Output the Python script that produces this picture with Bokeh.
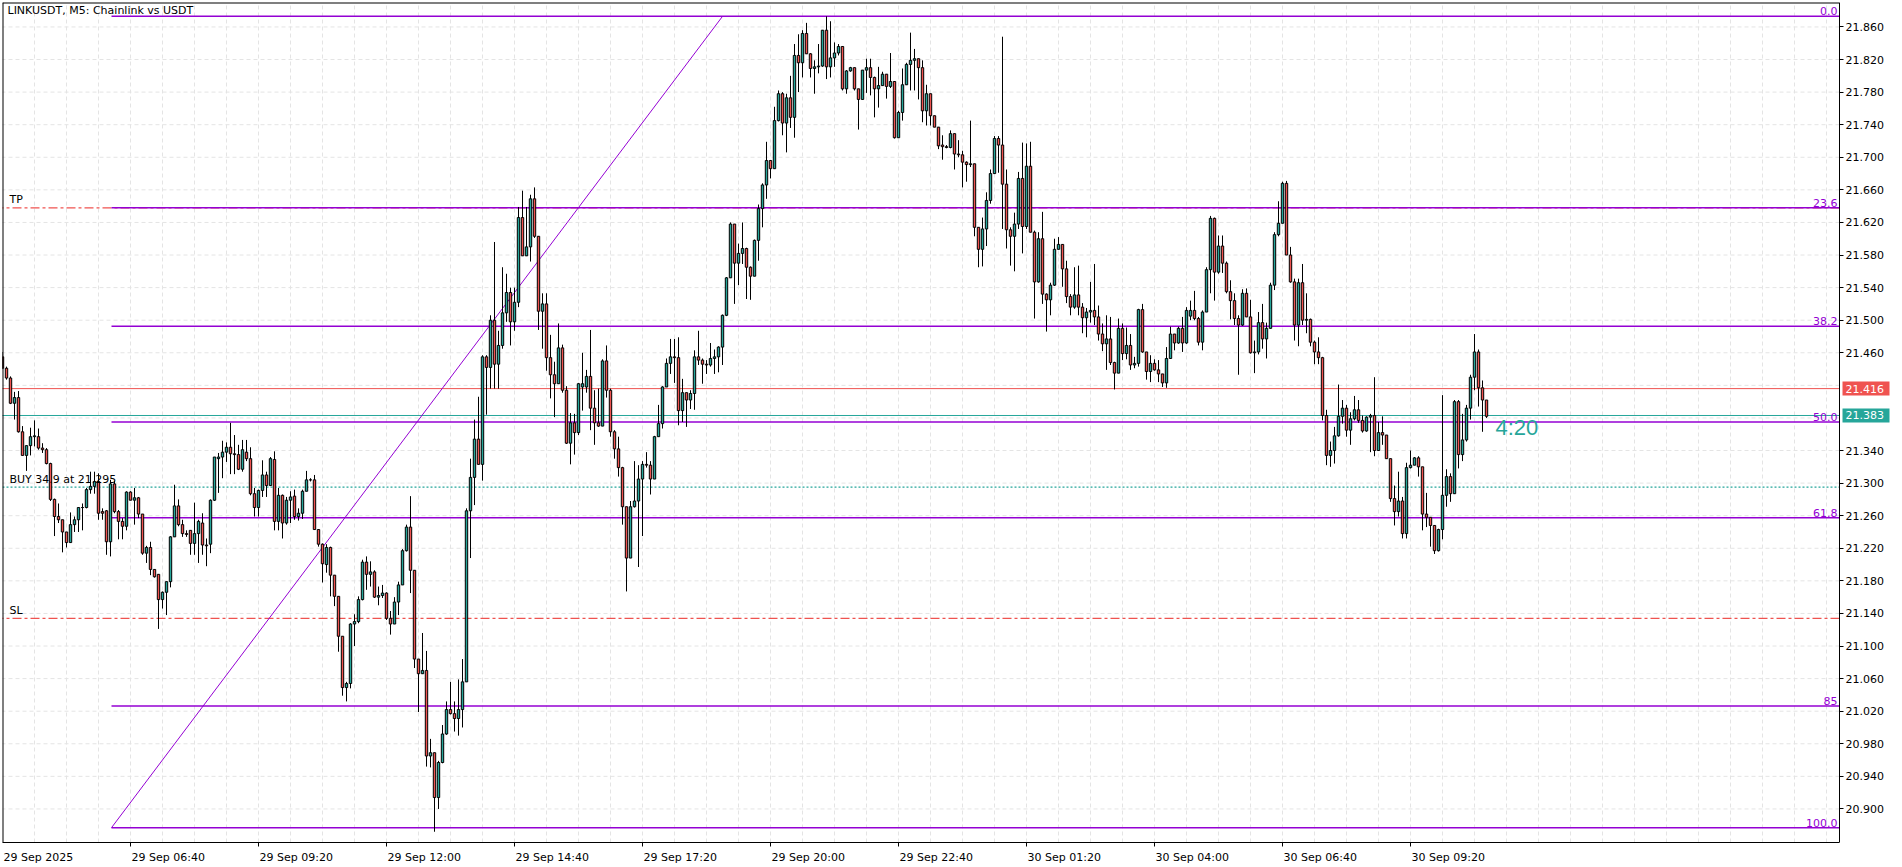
from bokeh.plotting import figure
from bokeh.models import Range1d, FixedTicker, NumeralTickFormatter, Span, Label
from bokeh.embed import file_html
from bokeh.resources import INLINE

# ---------------- data (LINKUSDT M5, bars from 29 Sep 2025 04:00) ----------------
opens = [
    21.455, 21.441, 21.429, 21.398, 21.405, 21.363, 21.334, 21.346, 21.357, 21.357,
    21.343, 21.341, 21.324, 21.280, 21.259, 21.255, 21.240, 21.227, 21.249, 21.255,
    21.270, 21.270, 21.292, 21.296, 21.302, 21.265, 21.266, 21.228, 21.299, 21.265,
    21.253, 21.247, 21.289, 21.279, 21.282, 21.262, 21.214, 21.221, 21.194, 21.188,
    21.157, 21.166, 21.179, 21.234, 21.272, 21.249, 21.238, 21.242, 21.226, 21.238,
    21.251, 21.224, 21.225, 21.279, 21.330, 21.332, 21.338, 21.344, 21.336, 21.335,
    21.317, 21.338, 21.330, 21.287, 21.270, 21.291, 21.310, 21.297, 21.329, 21.253,
    21.285, 21.251, 21.279, 21.284, 21.259, 21.263, 21.290, 21.304, 21.304, 21.243,
    21.225, 21.200, 21.221, 21.187, 21.161, 21.112, 21.049, 21.054, 21.127, 21.130,
    21.157, 21.203, 21.188, 21.191, 21.160, 21.162, 21.165, 21.134, 21.127, 21.154,
    21.175, 21.217, 21.246, 21.193, 21.084, 21.066, 21.070, 20.965, 20.969, 20.914,
    20.957, 20.992, 21.022, 21.017, 21.011, 21.022, 21.056, 21.266, 21.307, 21.354,
    21.323, 21.455, 21.442, 21.500, 21.446, 21.469, 21.509, 21.534, 21.498, 21.522,
    21.626, 21.579, 21.590, 21.649, 21.603, 21.511, 21.520, 21.454, 21.433, 21.422,
    21.466, 21.414, 21.349, 21.374, 21.362, 21.418, 21.418, 21.431, 21.392, 21.374,
    21.370, 21.450, 21.414, 21.363, 21.342, 21.319, 21.271, 21.208, 21.271, 21.278,
    21.305, 21.323, 21.322, 21.305, 21.357, 21.373, 21.418, 21.447, 21.455, 21.454,
    21.389, 21.411, 21.402, 21.410, 21.455, 21.451, 21.446, 21.445, 21.453, 21.455,
    21.467, 21.506, 21.552, 21.618, 21.570, 21.582, 21.588, 21.565, 21.554, 21.598,
    21.637, 21.666, 21.696, 21.686, 21.745, 21.778, 21.742, 21.773, 21.749, 21.825,
    21.816, 21.852, 21.827, 21.809, 21.811, 21.812, 21.856, 21.811, 21.822, 21.828,
    21.836, 21.784, 21.806, 21.810, 21.784, 21.771, 21.807, 21.810, 21.798, 21.784,
    21.788, 21.802, 21.787, 21.793, 21.724, 21.755, 21.789, 21.814, 21.819, 21.821,
    21.810, 21.757, 21.778, 21.751, 21.737, 21.715, 21.713, 21.712, 21.729, 21.704,
    21.703, 21.694, 21.691, 21.692, 21.614, 21.587, 21.612, 21.647, 21.680, 21.723,
    21.715, 21.667, 21.611, 21.603, 21.618, 21.674, 21.615, 21.689, 21.608, 21.547,
    21.600, 21.532, 21.525, 21.543, 21.587, 21.593, 21.563, 21.529, 21.516, 21.531,
    21.516, 21.503, 21.510, 21.512, 21.504, 21.483, 21.471, 21.477, 21.448, 21.435,
    21.490, 21.459, 21.469, 21.445, 21.447, 21.513, 21.461, 21.437, 21.447, 21.439,
    21.434, 21.423, 21.453, 21.483, 21.472, 21.490, 21.472, 21.505, 21.512, 21.502,
    21.473, 21.510, 21.562, 21.625, 21.559, 21.591, 21.570, 21.535, 21.524, 21.502,
    21.494, 21.533, 21.504, 21.460, 21.461, 21.497, 21.477, 21.490, 21.543, 21.605,
    21.619, 21.668, 21.580, 21.547, 21.494, 21.546, 21.500, 21.501, 21.473, 21.461,
    21.454, 21.383, 21.334, 21.340, 21.358, 21.382, 21.392, 21.365, 21.379, 21.390,
    21.377, 21.364, 21.381, 21.383, 21.340, 21.362, 21.359, 21.330, 21.281, 21.265,
    21.278, 21.238, 21.319, 21.322, 21.331, 21.320, 21.262, 21.258, 21.248, 21.217,
    21.243, 21.285, 21.308, 21.287, 21.400, 21.335, 21.353, 21.392, 21.430, 21.461,
    21.417, 21.402,
]
highs = [
    21.461, 21.443, 21.431, 21.412, 21.413, 21.370, 21.346, 21.368, 21.377, 21.367,
    21.349, 21.343, 21.325, 21.281, 21.275, 21.255, 21.240, 21.264, 21.259, 21.270,
    21.275, 21.294, 21.314, 21.314, 21.312, 21.269, 21.267, 21.304, 21.303, 21.267,
    21.257, 21.290, 21.290, 21.294, 21.283, 21.262, 21.223, 21.228, 21.194, 21.188,
    21.167, 21.179, 21.235, 21.298, 21.280, 21.255, 21.242, 21.242, 21.276, 21.255,
    21.263, 21.232, 21.280, 21.332, 21.337, 21.352, 21.350, 21.374, 21.359, 21.347,
    21.353, 21.353, 21.344, 21.294, 21.292, 21.328, 21.314, 21.332, 21.339, 21.294,
    21.286, 21.283, 21.290, 21.292, 21.269, 21.292, 21.315, 21.306, 21.310, 21.243,
    21.226, 21.225, 21.222, 21.187, 21.161, 21.112, 21.056, 21.128, 21.139, 21.161,
    21.206, 21.210, 21.204, 21.193, 21.173, 21.175, 21.166, 21.143, 21.160, 21.179,
    21.219, 21.249, 21.284, 21.193, 21.084, 21.116, 21.094, 20.986, 20.969, 20.959,
    21.003, 21.032, 21.056, 21.032, 21.059, 21.084, 21.269, 21.330, 21.378, 21.406,
    21.457, 21.457, 21.506, 21.596, 21.487, 21.565, 21.557, 21.540, 21.540, 21.639,
    21.659, 21.639, 21.654, 21.663, 21.603, 21.533, 21.533, 21.482, 21.449, 21.496,
    21.470, 21.419, 21.386, 21.385, 21.423, 21.460, 21.439, 21.488, 21.414, 21.416,
    21.452, 21.469, 21.416, 21.365, 21.357, 21.320, 21.271, 21.278, 21.327, 21.322,
    21.327, 21.338, 21.327, 21.358, 21.396, 21.419, 21.453, 21.477, 21.477, 21.479,
    21.428, 21.411, 21.414, 21.463, 21.487, 21.453, 21.451, 21.472, 21.464, 21.468,
    21.507, 21.553, 21.620, 21.618, 21.594, 21.620, 21.589, 21.566, 21.599, 21.642,
    21.668, 21.719, 21.696, 21.762, 21.782, 21.780, 21.778, 21.800, 21.839, 21.851,
    21.856, 21.865, 21.828, 21.819, 21.839, 21.856, 21.873, 21.867, 21.841, 21.839,
    21.836, 21.807, 21.811, 21.810, 21.784, 21.807, 21.821, 21.821, 21.799, 21.811,
    21.805, 21.802, 21.828, 21.793, 21.757, 21.809, 21.816, 21.853, 21.833, 21.821,
    21.819, 21.789, 21.778, 21.751, 21.737, 21.727, 21.715, 21.733, 21.729, 21.721,
    21.708, 21.695, 21.745, 21.692, 21.614, 21.626, 21.657, 21.685, 21.726, 21.726,
    21.848, 21.685, 21.614, 21.632, 21.682, 21.718, 21.717, 21.719, 21.610, 21.608,
    21.633, 21.533, 21.546, 21.600, 21.602, 21.593, 21.573, 21.532, 21.565, 21.567,
    21.521, 21.515, 21.547, 21.569, 21.518, 21.496, 21.506, 21.504, 21.449, 21.502,
    21.496, 21.491, 21.483, 21.455, 21.514, 21.520, 21.461, 21.457, 21.452, 21.451,
    21.434, 21.467, 21.492, 21.483, 21.492, 21.504, 21.516, 21.524, 21.536, 21.504,
    21.512, 21.565, 21.628, 21.626, 21.604, 21.604, 21.572, 21.549, 21.533, 21.506,
    21.538, 21.539, 21.525, 21.475, 21.510, 21.520, 21.497, 21.546, 21.608, 21.646,
    21.670, 21.671, 21.590, 21.551, 21.551, 21.569, 21.533, 21.502, 21.475, 21.479,
    21.455, 21.390, 21.351, 21.369, 21.421, 21.402, 21.396, 21.387, 21.407, 21.402,
    21.383, 21.382, 21.385, 21.430, 21.375, 21.382, 21.359, 21.330, 21.297, 21.314,
    21.283, 21.325, 21.340, 21.332, 21.333, 21.320, 21.288, 21.258, 21.248, 21.244,
    21.408, 21.317, 21.312, 21.402, 21.402, 21.385, 21.396, 21.433, 21.483, 21.464,
    21.426, 21.402,
]
lows = [
    21.440, 21.427, 21.397, 21.378, 21.362, 21.334, 21.315, 21.334, 21.345, 21.341,
    21.337, 21.323, 21.278, 21.235, 21.251, 21.215, 21.221, 21.227, 21.240, 21.240,
    21.242, 21.269, 21.287, 21.287, 21.255, 21.255, 21.212, 21.210, 21.263, 21.231,
    21.231, 21.242, 21.279, 21.249, 21.257, 21.212, 21.202, 21.187, 21.184, 21.121,
    21.146, 21.138, 21.172, 21.234, 21.247, 21.234, 21.234, 21.212, 21.212, 21.202,
    21.212, 21.198, 21.214, 21.278, 21.288, 21.306, 21.326, 21.311, 21.311, 21.316,
    21.314, 21.327, 21.285, 21.259, 21.259, 21.283, 21.283, 21.297, 21.242, 21.242,
    21.232, 21.249, 21.251, 21.255, 21.254, 21.256, 21.290, 21.302, 21.243, 21.222,
    21.178, 21.190, 21.161, 21.149, 21.093, 21.039, 21.032, 21.048, 21.100, 21.128,
    21.156, 21.169, 21.173, 21.159, 21.150, 21.159, 21.132, 21.114, 21.127, 21.138,
    21.175, 21.216, 21.165, 21.073, 21.019, 21.066, 20.952, 20.951, 20.872, 20.900,
    20.956, 20.991, 21.016, 20.995, 20.990, 21.000, 21.056, 21.208, 21.273, 21.323,
    21.303, 21.384, 21.416, 21.416, 21.416, 21.465, 21.498, 21.469, 21.487, 21.516,
    21.579, 21.579, 21.572, 21.601, 21.488, 21.465, 21.438, 21.404, 21.381, 21.422,
    21.411, 21.348, 21.323, 21.335, 21.359, 21.389, 21.411, 21.365, 21.347, 21.369,
    21.370, 21.405, 21.357, 21.330, 21.308, 21.249, 21.167, 21.208, 21.270, 21.197,
    21.235, 21.319, 21.286, 21.305, 21.357, 21.367, 21.418, 21.434, 21.423, 21.371,
    21.375, 21.369, 21.391, 21.390, 21.445, 21.422, 21.434, 21.443, 21.434, 21.436,
    21.445, 21.505, 21.552, 21.520, 21.543, 21.569, 21.526, 21.525, 21.554, 21.573,
    21.614, 21.649, 21.674, 21.686, 21.744, 21.727, 21.706, 21.736, 21.724, 21.780,
    21.798, 21.827, 21.798, 21.778, 21.803, 21.811, 21.796, 21.798, 21.811, 21.825,
    21.782, 21.778, 21.805, 21.782, 21.734, 21.771, 21.779, 21.776, 21.749, 21.761,
    21.788, 21.772, 21.785, 21.723, 21.724, 21.745, 21.789, 21.782, 21.782, 21.771,
    21.743, 21.739, 21.739, 21.737, 21.710, 21.697, 21.711, 21.711, 21.685, 21.700,
    21.663, 21.670, 21.688, 21.603, 21.565, 21.566, 21.591, 21.643, 21.680, 21.681,
    21.612, 21.588, 21.567, 21.560, 21.612, 21.582, 21.612, 21.608, 21.502, 21.546,
    21.520, 21.486, 21.506, 21.542, 21.587, 21.541, 21.521, 21.506, 21.514, 21.506,
    21.484, 21.479, 21.497, 21.494, 21.475, 21.462, 21.439, 21.445, 21.415, 21.435,
    21.451, 21.452, 21.439, 21.441, 21.443, 21.460, 21.427, 21.424, 21.438, 21.424,
    21.418, 21.417, 21.453, 21.463, 21.471, 21.461, 21.471, 21.500, 21.500, 21.469,
    21.463, 21.510, 21.533, 21.524, 21.557, 21.558, 21.533, 21.501, 21.494, 21.433,
    21.493, 21.504, 21.459, 21.435, 21.458, 21.465, 21.453, 21.490, 21.537, 21.603,
    21.619, 21.580, 21.546, 21.475, 21.468, 21.494, 21.484, 21.468, 21.446, 21.446,
    21.377, 21.322, 21.320, 21.324, 21.357, 21.373, 21.357, 21.347, 21.377, 21.374,
    21.362, 21.363, 21.338, 21.333, 21.340, 21.347, 21.330, 21.277, 21.248, 21.259,
    21.232, 21.232, 21.318, 21.322, 21.308, 21.242, 21.246, 21.222, 21.213, 21.216,
    21.231, 21.271, 21.277, 21.287, 21.318, 21.327, 21.351, 21.378, 21.414, 21.394,
    21.363, 21.380,
]
closes = [
    21.441, 21.429, 21.398, 21.405, 21.363, 21.334, 21.346, 21.357, 21.358, 21.343,
    21.341, 21.324, 21.280, 21.259, 21.255, 21.240, 21.227, 21.249, 21.255, 21.270,
    21.270, 21.292, 21.296, 21.302, 21.263, 21.263, 21.228, 21.299, 21.265, 21.253,
    21.247, 21.289, 21.279, 21.282, 21.262, 21.214, 21.221, 21.194, 21.185, 21.157,
    21.166, 21.179, 21.234, 21.272, 21.249, 21.238, 21.237, 21.226, 21.238, 21.253,
    21.224, 21.223, 21.279, 21.332, 21.332, 21.338, 21.344, 21.336, 21.335, 21.317,
    21.341, 21.330, 21.287, 21.270, 21.291, 21.310, 21.297, 21.330, 21.253, 21.285,
    21.251, 21.279, 21.283, 21.259, 21.263, 21.290, 21.304, 21.304, 21.243, 21.225,
    21.201, 21.221, 21.187, 21.161, 21.112, 21.049, 21.054, 21.127, 21.130, 21.157,
    21.203, 21.188, 21.191, 21.160, 21.162, 21.165, 21.134, 21.127, 21.154, 21.175,
    21.217, 21.246, 21.193, 21.084, 21.066, 21.070, 20.965, 20.969, 20.914, 20.957,
    20.992, 21.022, 21.017, 21.011, 21.022, 21.056, 21.266, 21.307, 21.354, 21.323,
    21.455, 21.442, 21.500, 21.446, 21.469, 21.509, 21.534, 21.498, 21.522, 21.626,
    21.579, 21.590, 21.649, 21.603, 21.511, 21.520, 21.454, 21.433, 21.422, 21.466,
    21.414, 21.349, 21.374, 21.362, 21.422, 21.422, 21.431, 21.392, 21.374, 21.370,
    21.450, 21.414, 21.363, 21.342, 21.319, 21.271, 21.208, 21.271, 21.278, 21.305,
    21.323, 21.322, 21.305, 21.357, 21.373, 21.418, 21.447, 21.455, 21.454, 21.389,
    21.411, 21.402, 21.410, 21.455, 21.451, 21.446, 21.445, 21.453, 21.455, 21.467,
    21.506, 21.552, 21.618, 21.570, 21.582, 21.588, 21.565, 21.554, 21.598, 21.637,
    21.666, 21.696, 21.686, 21.745, 21.778, 21.742, 21.773, 21.749, 21.825, 21.816,
    21.852, 21.827, 21.809, 21.811, 21.812, 21.856, 21.811, 21.822, 21.828, 21.836,
    21.784, 21.806, 21.810, 21.784, 21.771, 21.807, 21.810, 21.798, 21.784, 21.788,
    21.802, 21.787, 21.793, 21.724, 21.755, 21.789, 21.814, 21.819, 21.821, 21.810,
    21.757, 21.778, 21.751, 21.737, 21.714, 21.713, 21.712, 21.729, 21.704, 21.703,
    21.694, 21.691, 21.692, 21.614, 21.587, 21.612, 21.647, 21.680, 21.723, 21.715,
    21.667, 21.611, 21.603, 21.618, 21.674, 21.615, 21.689, 21.608, 21.547, 21.600,
    21.532, 21.525, 21.543, 21.587, 21.593, 21.563, 21.529, 21.516, 21.531, 21.516,
    21.503, 21.510, 21.512, 21.504, 21.483, 21.471, 21.477, 21.448, 21.435, 21.490,
    21.459, 21.469, 21.445, 21.447, 21.513, 21.461, 21.437, 21.447, 21.439, 21.434,
    21.423, 21.453, 21.483, 21.472, 21.490, 21.472, 21.512, 21.512, 21.502, 21.473,
    21.510, 21.562, 21.625, 21.559, 21.591, 21.570, 21.535, 21.524, 21.502, 21.494,
    21.533, 21.504, 21.460, 21.461, 21.497, 21.477, 21.490, 21.543, 21.605, 21.619,
    21.668, 21.580, 21.547, 21.494, 21.546, 21.500, 21.501, 21.473, 21.461, 21.454,
    21.383, 21.334, 21.340, 21.358, 21.382, 21.392, 21.365, 21.379, 21.390, 21.377,
    21.364, 21.381, 21.383, 21.340, 21.362, 21.359, 21.330, 21.281, 21.265, 21.278,
    21.238, 21.319, 21.322, 21.331, 21.320, 21.262, 21.258, 21.248, 21.217, 21.243,
    21.285, 21.308, 21.287, 21.400, 21.335, 21.353, 21.392, 21.430, 21.461, 21.417,
    21.402, 21.382,
]

x_tick_bars = [0, 32, 64, 96, 128, 160, 192, 224, 256, 288, 320, 352]
x_tick_labels = ["29 Sep 2025", "29 Sep 06:40", "29 Sep 09:20", "29 Sep 12:00",
                 "29 Sep 14:40", "29 Sep 17:20", "29 Sep 20:00", "29 Sep 22:40",
                 "30 Sep 01:20", "30 Sep 04:00", "30 Sep 06:40", "30 Sep 09:20"]
y_ticks = [round(20.900 + 0.040 * k, 3) for k in range(25)]
y_ticks_hidden = [21.380, 21.420]   # covered by the price boxes

fib_high, fib_low = 21.873, 20.877
fib_start_bar, fib_end_bar = 27.25, 180.0
fib_levels = [0.0, 23.6, 38.2, 50.0, 61.8, 85.0, 100.0]
fib_texts = ["0.0", "23.6", "38.2", "50.0", "61.8", "85", "100.0"]

tp_price, sl_price = 21.638, 21.134
buy_price = 21.295
buy_text = "BUY 34.9 at 21.295"
ask_price, bid_price = 21.416, 21.383
timer_text = "4:20"
title_text = "LINKUSDT, M5:  Chainlink vs USDT"

# ---------------- styling / layout ----------------
BULL = "#26A69A"
BEAR = "#EF5350"
FIB = "#9400D3"
GRID = "#E4E4E4"
FONT = "DejaVu Sans"

PX_PER_BAR = 4.0
W, H = 1900, 866
FRAME_LEFT, FRAME_TOP, FRAME_BOTTOM_PAD = 2, 2, 23
frame_w = W - FRAME_LEFT
frame_h = H - FRAME_TOP - FRAME_BOTTOM_PAD
x_start = 0.0
x_end = x_start + frame_w / PX_PER_BAR
chart_right = 459.25            # bar position of the price-scale border
y_high, y_low = 21.8900, 20.8588

p = figure(width=W, height=H,
           x_range=Range1d(x_start, x_end), y_range=Range1d(y_low, y_high),
           output_backend="svg", toolbar_location=None, y_axis_location="right",
           min_border_left=FRAME_LEFT, min_border_top=FRAME_TOP,
           min_border_right=0, min_border_bottom=FRAME_BOTTOM_PAD)
p.background_fill_color = "white"
p.border_fill_color = "white"
p.outline_line_color = None

# vertical grid
p.xgrid.ticker = FixedTicker(ticks=list(range(0, 460, 8)))
p.xgrid.grid_line_color = GRID
p.xgrid.grid_line_dash = "4 3"
p.ygrid.visible = False
# horizontal grid (bounded to the chart area)
p.segment(x0=[x_start - 2] * len(y_ticks), y0=y_ticks,
          x1=[chart_right] * len(y_ticks), y1=y_ticks,
          line_color=GRID, line_dash="4 3", line_width=1)

# price scale (right), pinned to the chart border
ya = p.yaxis[0]
ya.fixed_location = chart_right
ya.ticker = FixedTicker(ticks=[t for t in y_ticks if t not in y_ticks_hidden])
ya.formatter = NumeralTickFormatter(format="0.000")
ya.major_tick_in = 0
ya.major_tick_out = 4
ya.minor_tick_line_color = None
ya.major_label_standoff = 2
ya.axis_line_color = "black"
ya.major_tick_line_color = "black"
ya.major_label_text_font = FONT
ya.major_label_text_font_size = "11px"
ya.major_label_text_color = "black"

# time scale: labels start at their tick marks
label_centers = []
for b, lab in zip(x_tick_bars, x_tick_labels):
    w = 69.7 if lab.endswith("2025") else 73.4
    c = b + (1 + w / 2) / PX_PER_BAR
    label_centers.append(round(c, 2))
xa = p.xaxis[0]
xa.bounds = (x_start, chart_right)
xa.ticker = FixedTicker(ticks=label_centers, minor_ticks=x_tick_bars[1:])
xa.major_label_overrides = {c: lab for c, lab in zip(label_centers, x_tick_labels)}
xa.major_tick_in = 0
xa.major_tick_out = 0
xa.minor_tick_in = 0
xa.minor_tick_out = 4
xa.minor_tick_line_color = "black"
xa.major_label_standoff = 4
xa.axis_line_color = "black"
xa.major_label_text_font = FONT
xa.major_label_text_font_size = "11px"
xa.major_label_text_color = "black"

# chart border (left and top)
p.add_layout(Span(location=x_start, dimension="height", line_color="black", line_width=2))
p.segment(x0=[x_start], y0=[y_high], x1=[chart_right], y1=[y_high],
          line_color="black", line_width=2)

# horizontal trade / price lines
def hline(price, color, dash="solid", width=1):
    p.segment(x0=[x_start - 2], y0=[price], x1=[chart_right], y1=[price],
              line_color=color, line_width=width, line_dash=dash)

hline(tp_price, BEAR, "9 3 3 3", 1.3)
hline(sl_price, BEAR, "9 3 3 3", 1.3)
hline(buy_price, BULL, "2 2", 1.2)
hline(ask_price, BEAR)
hline(bid_price, BULL)

# fibonacci retracement
fib_prices = [fib_high - lv / 100.0 * (fib_high - fib_low) for lv in fib_levels]
p.segment(x0=[fib_start_bar] * len(fib_prices), y0=fib_prices,
          x1=[chart_right] * len(fib_prices), y1=fib_prices,
          line_color=FIB, line_width=1.5)
p.segment(x0=[fib_start_bar], y0=[fib_low], x1=[fib_end_bar], y1=[fib_high],
          line_color=FIB, line_width=1)

# candles
bars = list(range(len(closes)))
tops = [max(o, c) for o, c in zip(opens, closes)]
bots = [min(o, c) for o, c in zip(opens, closes)]
cols = [BULL if c >= o else BEAR for o, c in zip(opens, closes)]
p.segment(x0=bars, y0=lows, x1=bars, y1=highs, line_color="black", line_width=1)
p.vbar(x=bars, width=0.6, top=tops, bottom=bots, fill_color=cols,
       line_color="black", line_width=1)

# fib level labels
for pr, t in zip(fib_prices, fib_texts):
    p.add_layout(Label(x=chart_right, y=pr, x_offset=-2, y_offset=1, text=t,
                       text_align="right", text_baseline="bottom",
                       text_font=FONT, text_font_size="11px", text_color=FIB))

# left side texts
p.add_layout(Label(x=5, y=frame_h - 2, x_units="screen", y_units="screen",
                   text=title_text, text_align="left", text_baseline="top",
                   text_font=FONT, text_font_size="11px", text_color="black"))
p.add_layout(Label(x=7, x_units="screen", y=tp_price, y_offset=2, text="TP",
                   text_align="left", text_baseline="bottom",
                   text_font=FONT, text_font_size="11px", text_color="black"))
p.add_layout(Label(x=7, x_units="screen", y=sl_price, y_offset=1, text="SL",
                   text_align="left", text_baseline="bottom",
                   text_font=FONT, text_font_size="11px", text_color="black"))
p.add_layout(Label(x=7, x_units="screen", y=buy_price, y_offset=1, text=buy_text,
                   text_align="left", text_baseline="bottom",
                   text_font=FONT, text_font_size="11px", text_color="black"))

# countdown
p.add_layout(Label(x=373.25, y=21.3677, text=timer_text, text_align="left",
                   text_baseline="middle", text_font="Liberation Sans",
                   text_font_size="22px", text_color=BULL))

# price boxes on the price scale
box_center = chart_right + (3 + 23.5) / PX_PER_BAR
p.rect(x=[box_center, box_center], y=[ask_price, bid_price], width=47, height=14,
       width_units="screen", height_units="screen",
       fill_color=[BEAR, BULL], line_color=None)
for pr in (ask_price, bid_price):
    p.add_layout(Label(x=chart_right, y=pr, x_offset=6, text=f"{pr:.3f}",
                       text_align="left", text_baseline="middle",
                       text_font=FONT, text_font_size="11px", text_color="white"))

open("out.html", "w").write(file_html(p, INLINE))
